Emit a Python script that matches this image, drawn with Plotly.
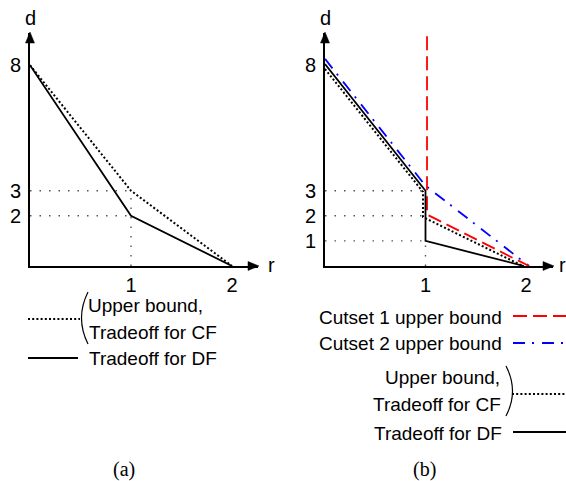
import plotly.graph_objects as go

# ---------------- data ----------------
# panel (a)
r_a = [0, 1, 2]
cf_a = [8, 3, 0]          # Upper bound, Tradeoff for CF
df_a = [8, 2, 0]          # Tradeoff for DF
guide_levels_a = [3, 2]
guide_top_a = 3

# panel (b)
r_cut1 = [1.015, 1.015, 2.03]
cut1_b = [9.15, 2.05, 0]  # Cutset 1 upper bound
r_cut2 = [0, 1, 2.03]
cut2_b = [8.25, 3.2, 0]   # Cutset 2 upper bound
r_cf_b = [0, 0.975, 0.975, 1.97]
cf_b = [7.85, 2.95, 1.95, 0]
r_df_b = [0, 1, 1, 1.98]
df_b = [8.05, 3, 1, 0]
guide_levels_b = [3, 2, 1]
guide_top_b = 1

ytick_a = [2, 3, 8]
ytick_b = [1, 2, 3, 8]
xtick = [1, 2]

OFF = 0
W, H = 566, 481
FONT = "Arial, Liberation Sans, Helvetica, sans-serif"
SERIF = "Times New Roman, Liberation Serif, serif"


def X(px):
    return (px - OFF) / W


def Y(py):
    return 1 - (py - OFF) / H


fig = go.Figure()


def guides(levels, top, xa, ya):
    xs, ys = [], []
    for lv in levels:
        xs += [0, 1, None]
        ys += [lv, lv, None]
    xs += [1, 1]
    ys += [0, top]
    fig.add_trace(go.Scatter(x=xs, y=ys, mode="lines", xaxis=xa, yaxis=ya,
                             line=dict(color="#555555", width=1.4, dash="1.5px,8px"),
                             hoverinfo="skip"))


DOT = "2px,2.2px"

# panel a
guides(guide_levels_a, guide_top_a, "x", "y")
fig.add_trace(go.Scatter(x=r_a, y=cf_a, mode="lines", xaxis="x", yaxis="y",
                         line=dict(color="black", width=2, dash=DOT)))
fig.add_trace(go.Scatter(x=r_a, y=df_a, mode="lines", xaxis="x", yaxis="y",
                         line=dict(color="black", width=1.8)))

# panel b
guides(guide_levels_b, guide_top_b, "x2", "y2")
fig.add_trace(go.Scatter(x=r_cf_b, y=cf_b, mode="lines", xaxis="x2", yaxis="y2",
                         line=dict(color="black", width=2, dash=DOT)))
fig.add_trace(go.Scatter(x=r_cut2, y=cut2_b, mode="lines", xaxis="x2", yaxis="y2",
                         line=dict(color="#0000ff", width=1.8, dash="12px,7px,2px,8px")))
fig.add_trace(go.Scatter(x=r_cut1, y=cut1_b, mode="lines", xaxis="x2", yaxis="y2",
                         line=dict(color="#ff0000", width=1.8, dash="14px,6px")))
fig.add_trace(go.Scatter(x=r_df_b, y=df_b, mode="lines", xaxis="x2", yaxis="y2",
                         line=dict(color="black", width=1.8)))

# axes geometry (window pixels)
y_bottom, y_top = 266, 33
ax_a_left, ax_a_right = 30, 258
ax_b_left, ax_b_right = 325, 553
px_per_r_a, px_per_r_b = 101.0, 100.5
px_per_d = 25.1

common = dict(showline=True, linecolor="black", linewidth=2, showgrid=False,
              zeroline=False, ticks="outside", tickcolor="rgba(0,0,0,0)",
              tickfont=dict(family=FONT, size=20, color="black"), fixedrange=True)

fig.update_layout(
    width=W, height=H, margin=dict(l=0, r=0, t=0, b=0),
    paper_bgcolor="white", plot_bgcolor="white", showlegend=False,
    xaxis=dict(domain=[X(ax_a_left), X(ax_a_right)],
               range=[0, (ax_a_right - ax_a_left) / px_per_r_a],
               tickvals=xtick, ticklen=0, anchor="y", **common),
    yaxis=dict(domain=[Y(y_bottom), Y(y_top)],
               range=[0, (y_bottom - y_top) / px_per_d],
               tickvals=ytick_a, ticklen=3, anchor="x", **common),
    xaxis2=dict(domain=[X(ax_b_left), X(ax_b_right)],
                range=[0, (ax_b_right - ax_b_left) / px_per_r_b],
                tickvals=xtick, ticklen=0, anchor="y2", **common),
    yaxis2=dict(domain=[Y(y_bottom), Y(y_top)],
                range=[0, (y_bottom - y_top) / px_per_d],
                tickvals=ytick_b, ticklen=3, anchor="x2", **common),
)

shapes = []


def tri(pts):
    p = "M " + " L ".join(f"{X(a):.5f},{Y(b):.5f}" for a, b in pts) + " Z"
    shapes.append(dict(type="path", xref="paper", yref="paper", path=p,
                       fillcolor="black", line=dict(color="black", width=0.5)))


for left, right in [(ax_a_left, ax_a_right), (ax_b_left, ax_b_right)]:
    tri([(left, y_top - 1), (left - 4.5, y_top + 10), (left + 4.5, y_top + 10)])
    tri([(right + 1, y_bottom), (right - 10, y_bottom - 4.5), (right - 10, y_bottom + 4.5)])


def seg(x0, x1, y, color, dash, width=1.6):
    shapes.append(dict(type="line", xref="paper", yref="paper",
                       x0=X(x0), x1=X(x1), y0=Y(y), y1=Y(y),
                       line=dict(color=color, width=width, dash=dash)))


def bracket(xt, yt, xc, yc, xb, yb):
    p = f"M {X(xt):.5f},{Y(yt):.5f} Q {X(xc):.5f},{Y(yc):.5f} {X(xb):.5f},{Y(yb):.5f}"
    shapes.append(dict(type="path", xref="paper", yref="paper", path=p,
                       line=dict(color="black", width=1.2)))


# legend (a)
seg(28, 80, 319, "black", DOT, 1.8)
seg(28, 78, 358, "black", "solid", 1.8)
bracket(88, 292, 75, 318, 88, 344)
# legend (b)
seg(513, 566, 316, "#ff0000", "14px,6px", 1.8)
seg(513, 566, 343, "#0000ff", "12px,7px,2px,8px", 1.8)
seg(512, 566, 394, "black", DOT, 1.8)
seg(513, 566, 432, "black", "solid", 1.8)
bracket(506, 366, 519, 391, 506, 416)

fig.update_layout(shapes=shapes)

ann = []


def text(t, x, y, xanchor="center", size=19, family=FONT):
    ann.append(dict(text=t, x=X(x), y=Y(y), xref="paper", yref="paper",
                    xanchor=xanchor, yanchor="middle", showarrow=False,
                    font=dict(family=family, size=size, color="black")))


text("d", 30, 18, size=20)
text("r", 271, 265, size=20)
text("d", 325, 18, size=20)
text("r", 557, 265, "left", size=20)

text("Upper bound,", 86, 305, "left")
text("Tradeoff for CF", 87, 332, "left")
text("Tradeoff for DF", 87, 358, "left")

text("Cutset 1 upper bound", 504, 317, "right")
text("Cutset 2 upper bound", 504, 343, "right")
text("Upper bound,", 502, 377, "right")
text("Tradeoff for CF", 503, 404, "right")
text("Tradeoff for DF", 504, 433, "right")

text("(a)", 124, 469, size=20, family=SERIF)
text("(b)", 424, 469, size=20, family=SERIF)

fig.update_layout(annotations=ann)

fig.write_html(
    "out.html",
    config={"displayModeBar": False},
    post_script="document.body.style.margin='0';document.body.style.overflow='hidden';",
)
